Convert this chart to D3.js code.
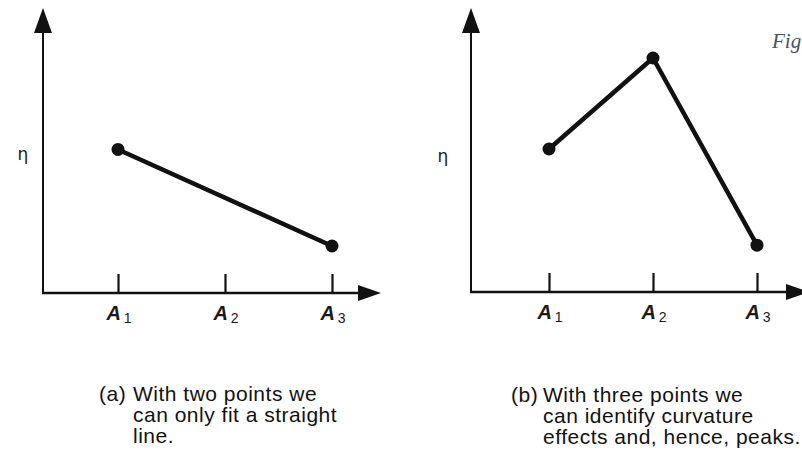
<!DOCTYPE html>
<html>
<head>
<meta charset="utf-8">
<script src="https://cdn.jsdelivr.net/npm/d3@7"></script>
<style>
  html, body { margin: 0; padding: 0; background: #fff; }
  svg { display: block; }
</style>
</head>
<body>
<svg id="chart" width="802" height="454"></svg>
<script>
// Data
const categories = ["A1", "A2", "A3"]
const panelAX = ["A1", "A3"]
const panelAEta = [5.5, 1.8]
const panelBX = ["A1", "A2", "A3"]
const panelBEta = [5.5, 9.0, 1.8]
const etaDomain = [0, 10]
const captionATag = "(a)"
const captionA = ["With two points we", "can only fit a straight", "line."]
const captionBTag = "(b)"
const captionB = ["With three points we", "can identify curvature", "effects and, hence, peaks."]
const figLabel = "Fig"

const svg = d3.select("#chart")
const ink = "#111"

const panels = [
  { xs: panelAX, ys: panelAEta, ox: 43, oy: 293, x0: 118, x1: 332, xEnd: 381, yTop: 8,
    etaX: 23, etaY: 160, tag: captionATag, caption: captionA, tagX: 99, capX: 133, capY: 401 },
  { xs: panelBX, ys: panelBEta, ox: 471, oy: 292, x0: 549, x1: 757, xEnd: 809, yTop: 8,
    etaX: 443, etaY: 162, tag: captionBTag, caption: captionB, tagX: 511, capX: 543, capY: 402 }
]

panels.forEach(p => drawPanel(p))

function drawPanel(p) {
  const g = svg.append("g")

  const xScale = d3.scalePoint().domain(categories).range([p.x0, p.x1])
  const yScale = d3.scaleLinear().domain(etaDomain).range([p.oy, 32])

  // Axis lines
  g.append("line")
    .attr("x1", p.ox).attr("y1", p.oy)
    .attr("x2", p.ox).attr("y2", p.yTop + 20)
    .attr("stroke", ink).attr("stroke-width", 2)
  g.append("line")
    .attr("x1", p.ox - 1).attr("y1", p.oy)
    .attr("x2", p.xEnd - 20).attr("y2", p.oy)
    .attr("stroke", ink).attr("stroke-width", 2.5)

  // Arrowheads
  g.append("path")
    .attr("d", `M${p.ox},${p.yTop} L${p.ox - 9},${p.yTop + 25} L${p.ox + 9},${p.yTop + 25} Z`)
    .attr("fill", ink)
  g.append("path")
    .attr("d", `M${p.xEnd},${p.oy} L${p.xEnd - 23},${p.oy - 8} L${p.xEnd - 23},${p.oy + 8} Z`)
    .attr("fill", ink)

  // Ticks
  const xAxis = d3.axisBottom(xScale)
    .tickSizeInner(-19)
    .tickSizeOuter(0)
    .tickFormat("")

  const axisG = g.append("g")
    .attr("transform", `translate(0, ${p.oy})`)
    .call(xAxis)
  axisG.select(".domain").remove()
  axisG.selectAll(".tick line")
    .attr("stroke", ink)
    .attr("stroke-width", 2.2)

  // Tick labels with subscripts
  const labels = g.selectAll(".xlabel")
    .data(categories)
    .enter()
    .append("text")
    .attr("class", "xlabel")
    .attr("x", d => xScale(d) + 1)
    .attr("y", p.oy + 27)
    .attr("text-anchor", "middle")
    .style("font-family", "'Liberation Sans', Arial, sans-serif")
    .style("fill", "#1a1a1a")
  labels.append("tspan")
    .style("font-size", "20px")
    .style("font-weight", "bold")
    .style("font-style", "italic")
    .text(d => d.charAt(0))
  labels.append("tspan")
    .attr("dx", 3)
    .attr("dy", 3)
    .style("font-size", "14px")
    .text(d => d.slice(1))

  // eta label
  g.append("text")
    .attr("x", p.etaX)
    .attr("y", p.etaY)
    .attr("text-anchor", "middle")
    .style("font-family", "'DejaVu Sans', sans-serif")
    .style("font-size", "17px")
    .style("fill", "#1a1a1a")
    .text("η")

  // Line and points
  const data = p.xs.map((x, i) => ({ x: x, y: p.ys[i] }))
  const line = d3.line()
    .x(d => xScale(d.x))
    .y(d => yScale(d.y))

  g.append("path")
    .datum(data)
    .attr("fill", "none")
    .attr("stroke", ink)
    .attr("stroke-width", 4.5)
    .attr("stroke-linejoin", "round")
    .attr("d", line)

  g.selectAll(".point")
    .data(data)
    .enter()
    .append("circle")
    .attr("class", "point")
    .attr("cx", d => xScale(d.x))
    .attr("cy", d => yScale(d.y))
    .attr("r", 6.5)
    .attr("fill", ink)

  // Caption
  const capStyle = sel => sel
    .style("font-family", "'Liberation Sans', Arial, sans-serif")
    .style("font-size", "21px")
    .style("letter-spacing", "0.5px")
    .style("fill", "#111")

  g.append("text")
    .attr("x", p.tagX)
    .attr("y", p.capY)
    .call(capStyle)
    .text(p.tag)

  g.selectAll(".caption")
    .data(p.caption)
    .enter()
    .append("text")
    .attr("class", "caption")
    .attr("x", p.capX)
    .attr("y", (d, i) => p.capY + i * 21)
    .call(capStyle)
    .text(d => d)
}

// Cut-off figure label at top right
svg.append("text")
  .attr("x", 772)
  .attr("y", 48)
  .style("font-family", "'Liberation Serif', 'DejaVu Serif', serif")
  .style("font-style", "italic")
  .style("font-size", "21px")
  .style("fill", "#44546a")
  .text(figLabel)
</script>
</body>
</html>
